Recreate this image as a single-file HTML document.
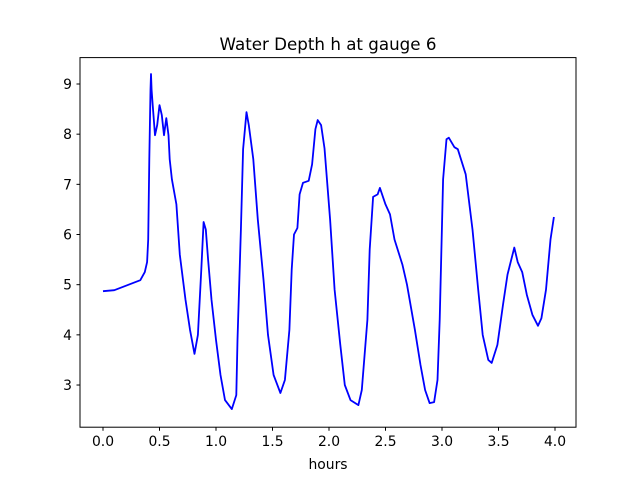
<!DOCTYPE html>
<html><head><meta charset="utf-8"><style>
body{margin:0;background:#fff}
svg text{font-family:"DejaVu Sans","Liberation Sans",sans-serif}
</style></head><body>
<svg width="640" height="480" viewBox="0 0 640 480" id="chart">
<rect x="0" y="0" width="640" height="480" fill="#fff"/>
<text x="328" y="50" font-size="16.7" text-anchor="middle">Water Depth h at gauge 6</text>
<text x="328" y="469" font-size="13.9" text-anchor="middle">hours</text>
<g id="xt"></g>
<g id="yt"></g>
<polyline id="series" fill="none" stroke="#0000ff" stroke-width="1.8" stroke-linejoin="round"/>
<rect x="80" y="57.6" width="496" height="369.6" fill="none" stroke="#000" stroke-width="1"/>
</svg>
<script>
const hours=[0.0,0.1,0.33,0.37,0.39,0.40,0.41,0.42,0.425,0.43,0.44,0.46,0.48,0.50,0.52,0.54,0.56,0.58,0.59,0.61,0.65,0.68,0.73,0.77,0.81,0.84,0.87,0.89,0.91,0.93,0.96,1.0,1.04,1.08,1.14,1.18,1.19,1.22,1.24,1.27,1.29,1.33,1.37,1.42,1.46,1.51,1.57,1.61,1.65,1.67,1.69,1.72,1.74,1.77,1.82,1.85,1.88,1.90,1.93,1.96,2.01,2.05,2.10,2.14,2.19,2.26,2.29,2.34,2.36,2.39,2.43,2.45,2.5,2.54,2.58,2.65,2.69,2.76,2.81,2.85,2.89,2.93,2.96,2.98,3.01,3.04,3.06,3.11,3.14,3.21,3.27,3.32,3.36,3.41,3.44,3.49,3.54,3.58,3.64,3.67,3.71,3.75,3.80,3.85,3.88,3.92,3.96,3.99];
const depth=[4.87,4.89,5.09,5.25,5.45,5.9,7.5,8.88,9.2,8.88,8.58,7.98,8.18,8.58,8.38,7.98,8.32,7.98,7.5,7.1,6.6,5.6,4.7,4.1,3.62,4.0,5.3,6.25,6.1,5.5,4.7,3.9,3.2,2.7,2.52,2.8,3.9,6.1,7.7,8.44,8.18,7.5,6.3,5.1,4.0,3.2,2.84,3.1,4.1,5.3,6.0,6.13,6.8,7.03,7.07,7.4,8.1,8.28,8.18,7.72,6.3,4.9,3.8,3.0,2.7,2.6,2.9,4.3,5.7,6.75,6.8,6.93,6.6,6.4,5.9,5.4,5.0,4.1,3.4,2.9,2.64,2.66,3.1,4.3,7.1,7.9,7.93,7.74,7.7,7.2,6.1,4.9,4.0,3.5,3.44,3.8,4.6,5.2,5.74,5.45,5.25,4.8,4.4,4.18,4.33,4.9,5.9,6.35];
const xTicks=[0,0.5,1,1.5,2,2.5,3,3.5,4];
const xTickLabels=["0.0","0.5","1.0","1.5","2.0","2.5","3.0","3.5","4.0"];
const yTicks=[3,4,5,6,7,8,9];
const yTickLabels=["3","4","5","6","7","8","9"];
const X=h=>103+h*113, Y=v=>84+(9-v)*50.17;
const NS="http://www.w3.org/2000/svg";
const xt=document.getElementById('xt'), yt=document.getElementById('yt');
xTicks.forEach((t,i)=>{
  const l=document.createElementNS(NS,'line');
  
  
  l.setAttribute('x1',X(t));l.setAttribute('x2',X(t));l.setAttribute('y1',427.2);l.setAttribute('y2',430.7);l.setAttribute('stroke','#000');
  xt.appendChild(l);
  const tx=document.createElementNS(NS,'text');
  
  
  tx.setAttribute('x',X(t));tx.setAttribute('y',446);tx.setAttribute('font-size','13.9');tx.setAttribute('text-anchor','middle');
  tx.textContent=xTickLabels[i];xt.appendChild(tx);
});
yTicks.forEach((t,i)=>{
  const l=document.createElementNS(NS,'line');
  
  
  l.setAttribute('x1',76.5);l.setAttribute('x2',80);l.setAttribute('y1',Y(t));l.setAttribute('y2',Y(t));l.setAttribute('stroke','#000');
  yt.appendChild(l);
  const tx=document.createElementNS(NS,'text');
  
  
  tx.setAttribute('x',72);tx.setAttribute('y',Y(t)+5);tx.setAttribute('font-size','13.9');tx.setAttribute('text-anchor','end');
  tx.textContent=yTickLabels[i];yt.appendChild(tx);
});
document.getElementById('series').setAttribute('points',hours.map((h,i)=>X(h).toFixed(1)+','+Y(depth[i]).toFixed(1)).join(' '));
</script>
</body></html>
